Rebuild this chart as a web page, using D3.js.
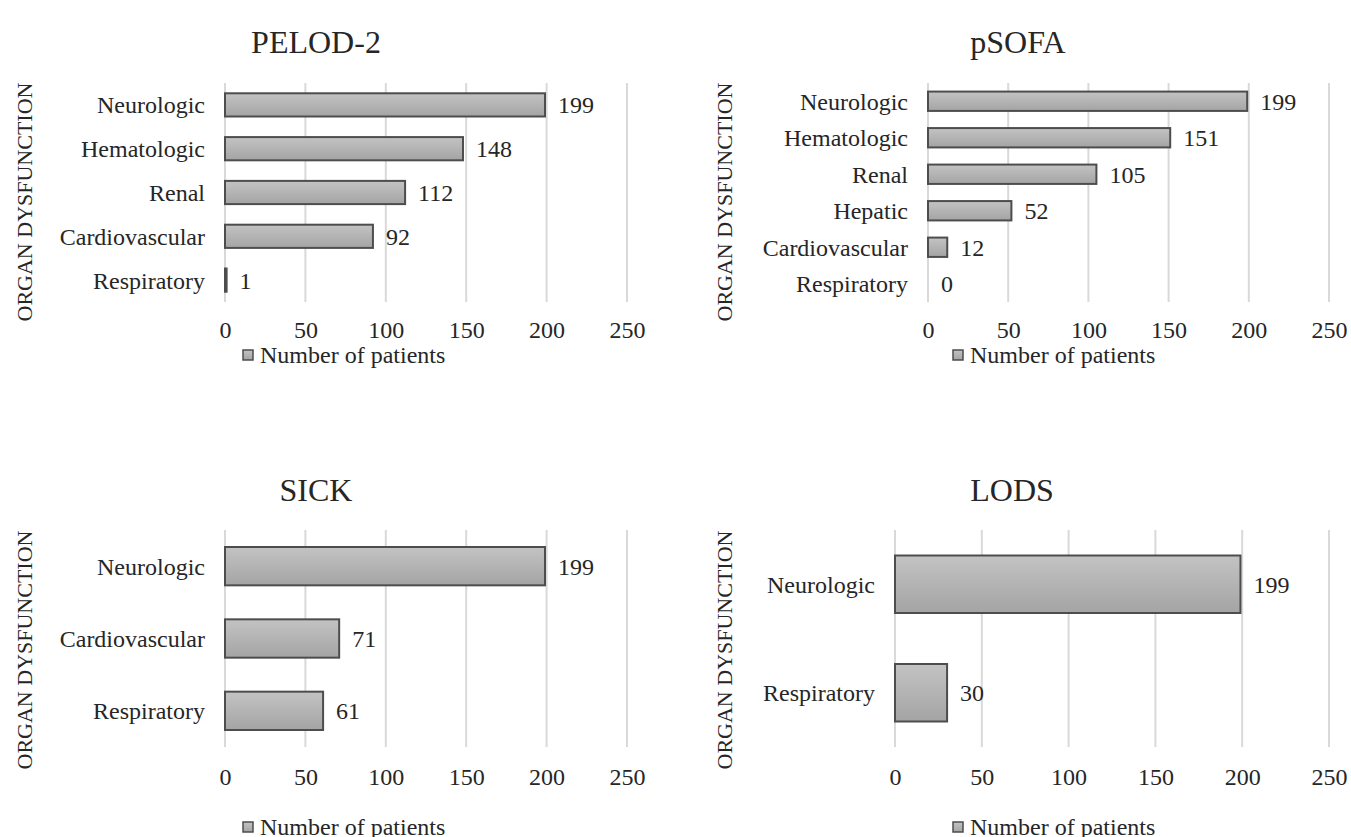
<!DOCTYPE html>
<html>
<head>
<meta charset="utf-8">
<script src="https://cdn.jsdelivr.net/npm/d3@7/dist/d3.min.js"></script>
<style>
  html, body { margin: 0; padding: 0; background: #fff; }
  svg { display: block; }
  svg text { font-family: 'Liberation Serif', Tinos, 'DejaVu Serif', 'Times New Roman', serif !important; fill: #262626; }
</style>
</head>
<body>
<svg id="chart" width="1351" height="837"></svg>
<script>
// ---- data ----
const pelodCategories = ["Neurologic", "Hematologic", "Renal", "Cardiovascular", "Respiratory"];
const pelodValues = [199, 148, 112, 92, 1];

const psofaCategories = ["Neurologic", "Hematologic", "Renal", "Hepatic", "Cardiovascular", "Respiratory"];
const psofaValues = [199, 151, 105, 52, 12, 0];

const sickCategories = ["Neurologic", "Cardiovascular", "Respiratory"];
const sickValues = [199, 71, 61];

const lodsCategories = ["Neurologic", "Respiratory"];
const lodsValues = [199, 30];

const xTickValues = [0, 50, 100, 150, 200, 250];
const seriesName = "Number of patients";
const axisTitle = "ORGAN DYSFUNCTION";

// ---- layout ----
const panels = [
  { title: "PELOD-2", cats: pelodCategories, vals: pelodValues,
    x0: 225, x1: 627, y0: 83, y1: 302, titleX: 316, titleY: 53,
    axTitleX: 24, axTitleY: 202, tickY: 330, legendX: 243, legendY: 355 },
  { title: "pSOFA", cats: psofaCategories, vals: psofaValues,
    x0: 928, x1: 1329, y0: 83, y1: 302, titleX: 1018, titleY: 53,
    axTitleX: 724, axTitleY: 202, tickY: 330, legendX: 953, legendY: 355 },
  { title: "SICK", cats: sickCategories, vals: sickValues,
    x0: 225, x1: 627, y0: 530, y1: 747, titleX: 316, titleY: 501,
    axTitleX: 24, axTitleY: 650, tickY: 777, legendX: 243, legendY: 827 },
  { title: "LODS", cats: lodsCategories, vals: lodsValues,
    x0: 895, x1: 1329, y0: 530, y1: 747, titleX: 1012, titleY: 501,
    axTitleX: 724, axTitleY: 650, tickY: 777, legendX: 953, legendY: 827 }
];

const svg = d3.select("#chart");
const defs = svg.append("defs");
const grad = defs.append("linearGradient").attr("id", "barGrad")
  .attr("x1", 0).attr("y1", 0).attr("x2", 0).attr("y2", 1);
grad.append("stop").attr("offset", "0%").attr("stop-color", "#c3c3c3");
grad.append("stop").attr("offset", "100%").attr("stop-color", "#a4a4a4");

panels.forEach(p => {
  const g = svg.append("g");
  const x = d3.scaleLinear().domain([0, 250]).range([p.x0, p.x1]);
  const y = d3.scaleBand().domain(p.cats).range([p.y0, p.y1])
    .paddingInner(0.47).paddingOuter(0.235);

  // gridlines
  g.append("g").selectAll("line").data(xTickValues).join("line")
    .attr("x1", d => x(d)).attr("x2", d => x(d))
    .attr("y1", p.y0).attr("y2", p.y1)
    .attr("stroke", "#d9d9d9").attr("stroke-width", 2);

  // x tick labels via axis
  const xAxis = d3.axisBottom(x).tickValues(xTickValues).tickSize(0).tickPadding(0);
  const xa = g.append("g").attr("transform", `translate(0,${p.tickY})`).call(xAxis);
  xa.attr("font-family", null).attr("font-size", null);
  xa.select(".domain").remove();
  xa.selectAll("text").attr("font-size", 24).attr("dy", "0.35em").attr("fill", "#262626");

  // y category labels via axis
  const yAxis = d3.axisLeft(y).tickSize(0).tickPadding(20);
  const ya = g.append("g").attr("transform", `translate(${p.x0},0)`).call(yAxis);
  ya.attr("font-family", null).attr("font-size", null);
  ya.select(".domain").remove();
  ya.selectAll("text").attr("font-size", 24).attr("dy", "0.35em").attr("fill", "#262626");

  // bars
  const data = p.cats.map((c, i) => ({ c, v: p.vals[i] }));
  g.append("g").selectAll("rect").data(data).join("rect")
    .attr("x", x(0))
    .attr("y", d => y(d.c))
    .attr("width", d => x(d.v) - x(0))
    .attr("height", y.bandwidth())
    .attr("fill", "url(#barGrad)")
    .attr("stroke", "#4d4d4d").attr("stroke-width", 2);

  // data labels
  g.append("g").selectAll("text").data(data).join("text")
    .attr("x", d => x(d.v) + 13)
    .attr("y", d => y(d.c) + y.bandwidth() / 2)
    .attr("dy", "0.35em")
    .attr("font-size", 24)
    .text(d => d.v);

  // title
  g.append("text").attr("x", p.titleX).attr("y", p.titleY)
    .attr("text-anchor", "middle").attr("font-size", 32).text(p.title);

  // axis title
  g.append("text")
    .attr("transform", `translate(${p.axTitleX},${p.axTitleY}) rotate(-90)`)
    .attr("text-anchor", "middle").attr("dy", "0.35em")
    .attr("font-size", 22).text(axisTitle);

  // legend
  const lg = g.append("g").attr("transform", `translate(${p.legendX},${p.legendY})`);
  lg.append("rect").attr("x", 0).attr("y", -5).attr("width", 10).attr("height", 10)
    .attr("fill", "url(#barGrad)").attr("stroke", "#4d4d4d").attr("stroke-width", 1.5);
  lg.append("text").attr("x", 17).attr("y", 0).attr("dy", "0.35em")
    .attr("font-size", 24).text(seriesName);
});
</script>
</body>
</html>
